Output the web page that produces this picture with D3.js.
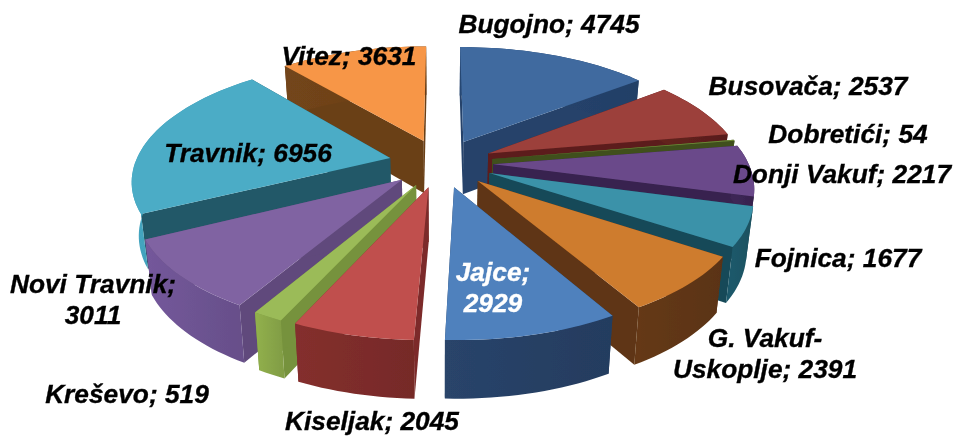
<!DOCTYPE html>
<html>
<head>
<meta charset="utf-8">
<script src="https://cdn.jsdelivr.net/npm/d3@7"></script>
<style>
    html, body { margin: 0; padding: 0; background: #fff; }
    svg { display: block; }
</style>
</head>
<body>
<svg id="chart"></svg>
<script>
const categories = ['Bugojno', 'Busovača', 'Dobretići', 'Donji Vakuf', 'Fojnica', 'G. Vakuf-Uskoplje',
    'Jajce', 'Kiseljak', 'Kreševo', 'Novi Travnik', 'Travnik', 'Vitez'];
const values = [4745, 2537, 54, 2217, 1677, 2391, 2929, 2045, 519, 3011, 6956, 3631];

const topColors = ['#3f6a9f', '#9c3f3b', '#6f8a36', '#6b4a8a', '#3b92a9', '#ce7b2f',
    '#4f81bd', '#c0504d', '#9bbb59', '#8064a2', '#4bacc6', '#f79646'];
const sideColors = ['#25426a', '#5c1f1d', '#3f4f1e', '#38234f', '#174a58', '#5e3514',
    '#263f63', '#7b2c2a', '#76923c', '#604a7b', '#215968', '#6b4018'];
const arcColors = ['#25426a', '#5c1f1d', '#3f4f1e', '#38234f', '#1c5363', '#5e3514',
    '#263f63', '#7b2c2a', '#88a548', '#6c5290', '#3f9ab3', '#6b4018'];

// where each label sits, lines split by hand like the original
const labelLayout = [
    {x: 549, y: 33},
    {x: 808, y: 95},
    {x: 848, y: 143},
    {x: 842, y: 183},
    {x: 838, y: 267},
    {x: 765, y: 347, breakAt: 'G. Vakuf-'.length},
    {x: 493, y: 281, breakAt: 'Jajce;'.length, fill: '#fff'},
    {x: 372, y: 430},
    {x: 127, y: 403},
    {x: 93, y: 293, breakAt: 'Novi Travnik;'.length},
    {x: 248, y: 162},
    {x: 349, y: 65}
];

const size = {width: 960, height: 436};

// projection of the pie plane
const cx = 441, cy = 163;
const rx = 255, ry = 117.6;
const persp = 0.17;
const explode = 0.205;
const depth = 53;

const svg = d3.select('#chart')
    .attr('width', size.width)
    .attr('height', size.height);

const defs = svg.append('defs');
defs.append('filter')
    .attr('id', 'soft')
    .attr('x', '-5%').attr('y', '-5%')
    .attr('width', '110%').attr('height', '110%')
    .append('feGaussianBlur')
    .attr('stdDeviation', 0.5);

const startDeg = 0;
const pie = d3.pie()
    .sort(null)
    .startAngle(startDeg * Math.PI / 180)
    .endAngle((startDeg + 360) * Math.PI / 180);

const arcs = pie(values).map((d, i) => {
    const mid = (d.startAngle + d.endAngle) / 2;
    return {
        i: i,
        start: d.startAngle,
        end: d.endAngle,
        mid: mid,
        ox: explode * Math.sin(mid),
        oy: explode * Math.cos(mid)
    };
});

const project = (X, Y, low) => {
    const s = 1 / (1 + persp * Y);
    const px = rx * X * s;
    const py = ry * Y * s;
    if (!low) return [cx + px, cy - py];
    // the bottom edge pulls in a little towards the centre
    return [cx + px * 0.977, cy - py + depth / (1 + 0.08 * Y)];
};

const line = d3.line().curve(d3.curveLinearClosed);

// far slices first so the near ones cover them
const order = arcs.slice().sort((a, b) => d3.descending(Math.cos(a.mid), Math.cos(b.mid)));

const rimPoints = (a) => {
    const n = Math.max(2, Math.ceil((a.end - a.start) / 0.03));
    return d3.range(n + 1).map(k => {
        const t = a.start + (a.end - a.start) * k / n;
        return [a.ox + Math.sin(t), a.oy + Math.cos(t)];
    });
};

const g = svg.append('g').attr('filter', 'url(#soft)');

order.forEach(a => {
    const rim = rimPoints(a);
    const apex = [a.ox, a.oy];
    const first = rim[0];
    const last = rim[rim.length - 1];
    const slice = g.append('g').attr('class', 'slice');

    const quad = (p, q) => [project(p[0], p[1], false), project(q[0], q[1], false),
        project(q[0], q[1], true), project(p[0], p[1], true)];

    slice.append('path').attr('d', line(quad(apex, first))).attr('fill', sideColors[a.i]);
    slice.append('path').attr('d', line(quad(apex, last))).attr('fill', sideColors[a.i]);

    // the rounded wall is a bit lighter on its left end
    const upper = rim.map(p => project(p[0], p[1], false));
    const lower = rim.map(p => project(p[0], p[1], true)).reverse();
    const xs = d3.extent(upper, p => p[0]);
    const gradId = 'wall' + a.i;
    const grad = defs.append('linearGradient')
        .attr('id', gradId)
        .attr('gradientUnits', 'userSpaceOnUse')
        .attr('x1', xs[0]).attr('x2', xs[1])
        .attr('y1', 0).attr('y2', 0);
    grad.append('stop').attr('offset', 0).attr('stop-color', d3.color(arcColors[a.i]).brighter(0.2));
    grad.append('stop').attr('offset', 1).attr('stop-color', d3.color(arcColors[a.i]).darker(0.12));
    slice.append('path').attr('d', line(upper.concat(lower))).attr('fill', `url(#${gradId})`);

    slice.append('path')
        .attr('d', line([project(apex[0], apex[1], false)].concat(upper)))
        .attr('fill', topColors[a.i]);
});

const labels = svg.append('g')
    .attr('filter', 'url(#soft)')
    .attr('font-family', '"Liberation Sans", Arial, sans-serif')
    .attr('font-size', 26.3)
    .attr('font-weight', 'bold')
    .attr('font-style', 'italic')
    .attr('text-anchor', 'middle');

labelLayout.forEach((l, i) => {
    const full = `${categories[i]}; ${values[i]}`;
    const lines = l.breakAt ? [full.slice(0, l.breakAt), full.slice(l.breakAt).trim()] : [full];
    const color = l.fill || '#000';
    const text = labels.append('text')
        .attr('class', 'label')
        .attr('fill', color)
        .attr('stroke', color)
        .attr('stroke-width', 0.35);
    lines.forEach((s, k) => {
        text.append('tspan')
            .attr('x', l.x)
            .attr('y', l.y + k * 31)
            .text(s);
    });
});
</script>
</body>
</html>
